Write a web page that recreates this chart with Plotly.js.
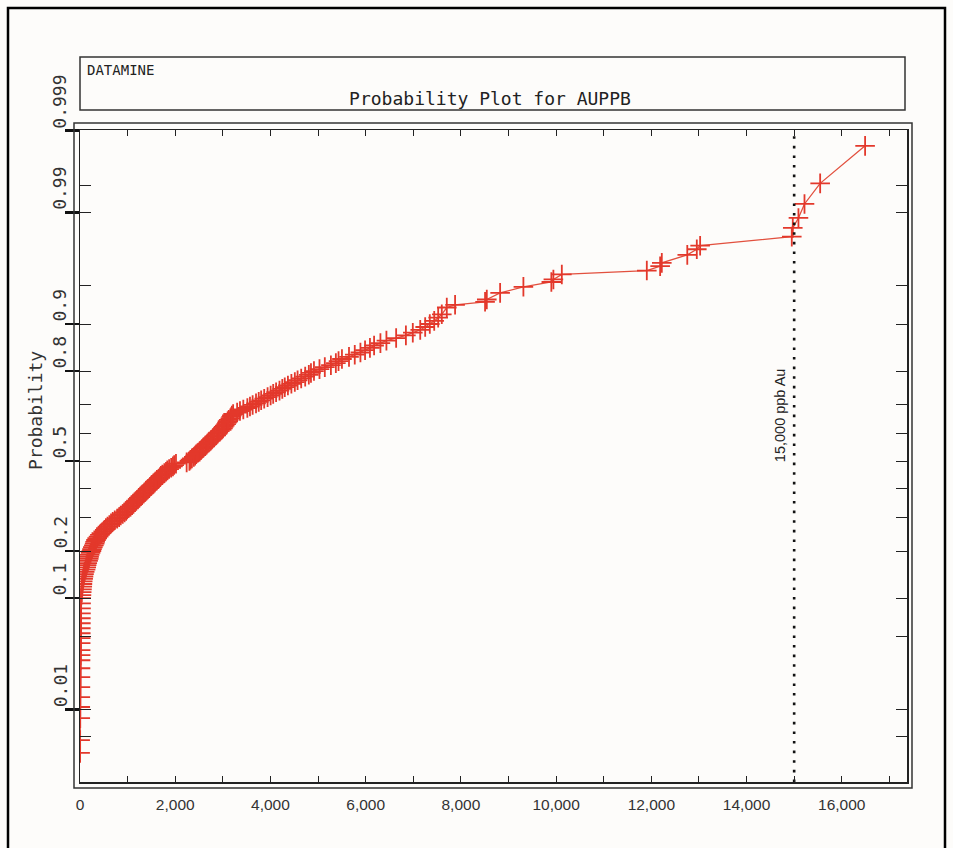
<!DOCTYPE html>
<html>
<head>
<meta charset="utf-8">
<script src="https://cdn.plot.ly/plotly-3.0.1.min.js"></script>
<style>html,body{margin:0;padding:0;background:#fdfcfa;}</style>
</head>
<body>
<div id="chart" style="width:953px;height:848px;"></div>
<script>
// ---- data ----
const auValues = [
  2,3,5,5,6,8,9,10,11,12,13,14,15,16,17,18,19,20,21,22,
  24,30,35,41,47,50,56,66,73,84,98,117,130,139,152,170,183,190,203,222,
  240,252,270,291,308,318,336,361,390,418,449,488,520,545,578,617,652,688,730,781,
  822,856,897,936,968,991,1024,1062,1093,1118,1147,1183,1214,1237,1266,1303,1334,1356,1385,1421,
  1452,1473,1502,1540,1566,1588,1616,1655,1681,1700,1730,1772,1806,1833,1872,1915,1952,1978,2016,2240,
  2298,2321,2350,2390,2418,2441,2470,2512,2539,2560,2591,2630,2655,2677,2704,2745,2770,2792,2819,2860,
  2886,2905,2936,2975,3002,3018,3040,3069,3088,3101,3124,3157,3176,3190,3216,3300,3360,3430,3515,3570,
  3626,3697,3754,3805,3869,3940,4004,4058,4119,4190,4249,4301,4367,4440,4512,4570,4646,4730,4806,4851,
  4914,5030,5142,5270,5374,5430,5502,5650,5771,5890,5987,6090,6177,6310,6436,6640,6845,6990,7146,7250,
  7347,7440,7523,
  7599,7704,7878,8508,8544,8824,9313,9900,9943,10120,11905,12185,12220,12755,12955,13025,14950,14971,15090,15217,15546,16490
];
const cumProb = [
  0.00316,0.00453,0.0081,0.0107,0.0136,0.0172,0.0216,0.0263,0.0312,0.0347,0.0384,0.0442,0.0488,0.0536,0.0589,0.0646,0.0707,0.0772,0.0842,0.0916,
  0.100,0.105,0.110,0.115,0.120,0.125,0.130,0.135,0.140,0.145,0.150,0.155,0.160,0.165,0.170,0.175,0.180,0.185,0.190,0.195,
  0.200,0.205,0.210,0.215,0.220,0.225,0.230,0.235,0.240,0.245,0.250,0.255,0.260,0.265,0.270,0.275,0.280,0.285,0.290,0.295,
  0.300,0.305,0.310,0.315,0.320,0.325,0.330,0.335,0.340,0.345,0.350,0.355,0.360,0.365,0.370,0.375,0.380,0.385,0.390,0.395,
  0.400,0.405,0.410,0.415,0.420,0.425,0.430,0.435,0.440,0.445,0.450,0.455,0.460,0.465,0.470,0.475,0.480,0.485,0.490,0.495,
  0.500,0.505,0.510,0.515,0.520,0.525,0.530,0.535,0.540,0.545,0.550,0.555,0.560,0.565,0.570,0.575,0.580,0.585,0.590,0.595,
  0.600,0.605,0.610,0.615,0.620,0.625,0.630,0.635,0.640,0.645,0.650,0.655,0.660,0.665,0.670,0.675,0.680,0.685,0.690,0.695,
  0.700,0.705,0.710,0.715,0.720,0.725,0.730,0.735,0.740,0.745,0.750,0.755,0.760,0.765,0.770,0.775,0.780,0.785,0.790,0.795,
  0.800,0.805,0.810,0.815,0.820,0.825,0.830,0.835,0.840,0.845,0.850,0.855,0.860,0.865,0.870,0.875,0.880,0.885,0.890,0.895,
  0.900,0.905,0.910,
  0.915,0.9245,0.928,0.9318,0.9346,0.9421,0.9484,0.953,0.9553,0.9595,0.9626,0.9658,0.9681,0.9731,0.9762,0.978,0.9821,0.9854,0.9885,0.9919,0.9953,0.9984
];
const cutoff = 15000;
const cutoffLabel = "15,000 ppb Au";
const xTickVals = [0,1000,2000,3000,4000,5000,6000,7000,8000,9000,10000,11000,12000,13000,14000,15000,16000,17000];
const xTickText = ["0","","2,000","","4,000","","6,000","","8,000","","10,000","","12,000","","14,000","","16,000",""];
const probMajor = [0.01,0.1,0.2,0.5,0.8,0.9,0.99,0.999];
const probMajorText = ["0.01","0.1","0.2","0.5","0.8","0.9","0.99","0.999"];
const probMinor = [0.005,0.05,0.3,0.4,0.6,0.7,0.95,0.995];
const probRange = [0.00134, 0.99902];
const xRange = [0, 17370];

// ---- inverse normal CDF (probability axis transform) ----
function probit(p){
  const a=[-3.969683028665376e+01,2.209460984245205e+02,-2.759285104469687e+02,1.383577518672690e+02,-3.066479806614716e+01,2.506628277459239e+00];
  const b=[-5.447609879822406e+01,1.615858368580409e+02,-1.556989798598866e+02,6.680131188771972e+01,-1.328068155288572e+01];
  const c=[-7.784894002430293e-03,-3.223964580411365e-01,-2.400758277161838e+00,-2.549732539343734e+00,4.374664141464968e+00,2.938163982698783e+00];
  const d=[7.784695709041462e-03,3.224671290632539e-01,2.445134137142996e+00,3.754408661907416e+00];
  const pl=0.02425;
  let q,r;
  if(p<pl){q=Math.sqrt(-2*Math.log(p));return (((((c[0]*q+c[1])*q+c[2])*q+c[3])*q+c[4])*q+c[5])/((((d[0]*q+d[1])*q+d[2])*q+d[3])*q+1);}
  if(p<=1-pl){q=p-0.5;r=q*q;return (((((a[0]*r+a[1])*r+a[2])*r+a[3])*r+a[4])*r+a[5])*q/(((((b[0]*r+b[1])*r+b[2])*r+b[3])*r+b[4])*r+1);}
  q=Math.sqrt(-2*Math.log(1-p));return -(((((c[0]*q+c[1])*q+c[2])*q+c[3])*q+c[4])*q+c[5])/((((d[0]*q+d[1])*q+d[2])*q+d[3])*q+1);
}

// ---- layout geometry ----
const W=953,H=848, ml=80, mr=46, mt=130, mb=66;
const pw=W-ml-mr, ph=H-mt-mb;
const xp = px => (px-ml)/pw;
const yp = py => (H-mb-py)/ph;
const yR = probRange.map(probit);
const monoFont = "DejaVu Sans Mono, monospace";

const traces = [
  {
    x: auValues, y: cumProb.map(probit), type:'scatter', mode:'lines+markers',
    line:{color:'#e2503e', width:1.3},
    marker:{symbol:'cross-thin', size:14, color:'#e3382b', line:{color:'#e3382b', width:1.8}},
    hoverinfo:'skip', showlegend:false
  },
  {
    x:[cutoff,cutoff], y:yR, yaxis:'y2', type:'scatter', mode:'lines',
    line:{color:'#111', width:2.6, dash:'2.6px,7px'}, hoverinfo:'skip', showlegend:false
  }
];

const allTicks = probMajor.concat(probMinor).map(probit);

const annotations = [];
probMajor.forEach((p,i)=>{
  annotations.push({xref:'paper', x:xp(60), yref:'y', y:probit(p), text:probMajorText[i],
    textangle:-90, xanchor:'center', yanchor:'bottom', showarrow:false,
    font:{family:monoFont, size:18, color:'#333'}});
});
annotations.push({xref:'paper', x:xp(36), yref:'paper', y:yp(411), text:'Probability', textangle:-90,
  xanchor:'center', yanchor:'middle', showarrow:false, font:{family:monoFont, size:18, color:'#333'}});
annotations.push({xref:'paper', x:xp(85), xanchor:'left', yref:'paper', y:yp(70), yanchor:'middle',
  text:'DATAMINE', showarrow:false, font:{family:monoFont, size:14, color:'#222'}});
annotations.push({xref:'x', x:cutoff, xshift:-14, yref:'paper', y:yp(415), yanchor:'middle', xanchor:'center',
  text:cutoffLabel, textangle:-90, showarrow:false, font:{family:'Liberation Sans, Arial, sans-serif', size:14.5, color:'#222'}});

const shapes = [
  {type:'rect', xref:'paper', yref:'paper', x0:xp(80), x1:xp(905), y0:yp(110), y1:yp(57), line:{color:'#333', width:1.5}},
  {type:'rect', xref:'paper', yref:'paper', x0:xp(74), x1:xp(912), y0:yp(788), y1:yp(123), line:{color:'#333', width:1.5}},
  {type:'rect', xref:'paper', yref:'paper', x0:xp(8), x1:xp(945), y0:yp(875), y1:yp(8), line:{color:'#000', width:2.5}}
];

const layout = {
  width:W, height:H, margin:{l:ml, r:mr, t:mt, b:mb, pad:0},
  paper_bgcolor:'#fdfcfa', plot_bgcolor:'#fdfcfa',
  title:{text:'Probability Plot for AUPPB', x:490/W, xanchor:'center', y:1-99/H, yanchor:'middle',
    font:{family:monoFont, size:18, color:'#222'}},
  xaxis:{range:xRange, tickmode:'array', tickvals:xTickVals, ticktext:xTickText,
    ticks:'inside', ticklen:6, tickwidth:1, tickcolor:'#222', showline:true, linecolor:'#222', linewidth:1.5,
    mirror:'ticks', showgrid:false, zeroline:false, ticklabelstandoff:8,
    tickfont:{family:'Liberation Sans, Arial, sans-serif', size:15.5, color:'#333'}},
  yaxis:{range:yR, tickmode:'array', tickvals:allTicks, ticks:'inside', ticklen:11, tickwidth:1,
    tickcolor:'#222', showticklabels:false, showline:true, linecolor:'#222', linewidth:1.5, mirror:'ticks',
    showgrid:false, zeroline:false},
  yaxis2:{range:yR, overlaying:'y', side:'left', tickmode:'array', tickvals:probMajor.map(probit),
    ticks:'outside', ticklen:14, tickwidth:2.5, tickcolor:'#111', showticklabels:false, showline:false,
    showgrid:false, zeroline:false},
  annotations: annotations,
  shapes: shapes
};

Plotly.newPlot('chart', traces, layout, {staticPlot:true, displayModeBar:false});
</script>
</body>
</html>
